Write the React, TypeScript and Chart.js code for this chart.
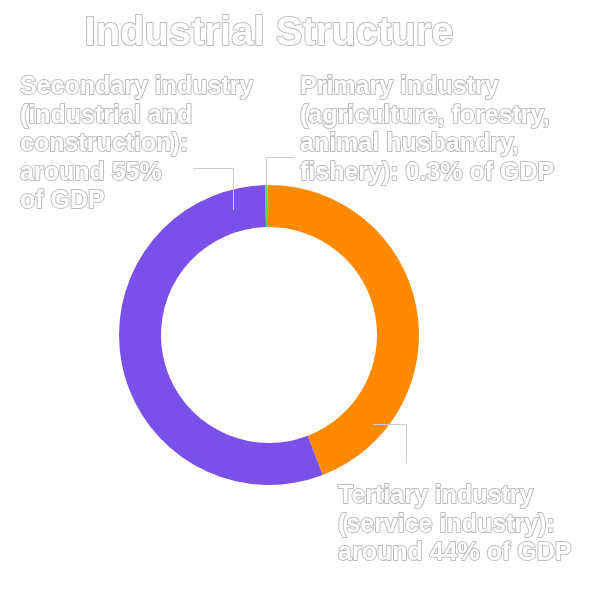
import { useEffect, useRef } from "react";
import { Chart, registerables } from "chart.js";

Chart.register(...registerables);

const titleText = "Industrial Structure";
const categories = ["Primary industry", "Tertiary industry", "Secondary industry"];
const shares = [0.3, 44, 55];
const sliceColors = ["#4fd65c", "#ff8a00", "#7a50e8"];
const labelTexts: string[][] = [
  ["Primary industry", "(agriculture, forestry,", "animal husbandry,", "fishery): 0.3% of GDP"],
  ["Tertiary industry", "(service industry):", "around 44% of GDP"],
  ["Secondary industry", "(industrial and", "construction):", "around 55%", "of GDP"],
];

// layout (pixels)
const labelAnchors = [
  { x: 300, y: 94 },
  { x: 338, y: 503 },
  { x: 20, y: 94 },
];
const leaderLines = [
  [[266.5, 186], [266.5, 157.5], [294, 157.5]],
  [[373, 424.5], [406.5, 424.5], [406.5, 463]],
  [[233.5, 210], [233.5, 168.5], [193, 168.5]],
];

const FONT = '"Liberation Sans", Arial, sans-serif';

const overlayPlugin = {
  id: "overlay",
  afterDatasetsDraw(chart: any) {
    const ctx = chart.ctx as CanvasRenderingContext2D;
    ctx.save();
    ctx.strokeStyle = "#cccccc";
    ctx.lineWidth = 1;
    leaderLines.forEach((pts) => {
      ctx.beginPath();
      pts.forEach((p, i) => (i === 0 ? ctx.moveTo(p[0], p[1]) : ctx.lineTo(p[0], p[1])));
      ctx.stroke();
    });

    const outlined = (t: string, x: number, y: number) => {
      ctx.lineJoin = "round";
      ctx.lineWidth = 2;
      ctx.strokeStyle = "#bdbdbd";
      ctx.strokeText(t, x, y);
      ctx.fillStyle = "#ffffff";
      ctx.fillText(t, x, y);
    };

    ctx.font = `bold 40px ${FONT}`;
    ctx.textAlign = "center";
    ctx.textBaseline = "alphabetic";
    outlined(titleText, 269, 45);

    ctx.font = `bold 25px ${FONT}`;
    ctx.textAlign = "left";
    labelTexts.forEach((lines, i) => {
      const a = labelAnchors[i];
      lines.forEach((ln, j) => outlined(ln, a.x, a.y + j * 28.6));
    });
    ctx.restore();
  },
};

export default function App() {
  const ref = useRef<HTMLCanvasElement>(null);
  useEffect(() => {
    document.body.style.margin = "0";
    const chart = new Chart(ref.current!, {
      type: "doughnut",
      data: {
        labels: categories,
        datasets: [
          {
            data: shares,
            backgroundColor: sliceColors,
            borderWidth: 0,
          },
        ],
      },
      options: {
        responsive: false,
        animation: false,
        rotation: -1.6,
        radius: 150,
        cutout: 108,
        layout: { padding: { left: 119, right: 171, top: 185, bottom: 105 } },
        plugins: {
          legend: { display: false },
          tooltip: { enabled: false },
          title: { display: false },
        },
      },
      plugins: [overlayPlugin],
    });
    return () => chart.destroy();
  }, []);
  return (
    <div style={{ position: "fixed", left: 0, top: 0, width: 590, height: 590, background: "#fff" }}>
      <canvas ref={ref} width={590} height={590} style={{ display: "block" }} />
    </div>
  );
}
